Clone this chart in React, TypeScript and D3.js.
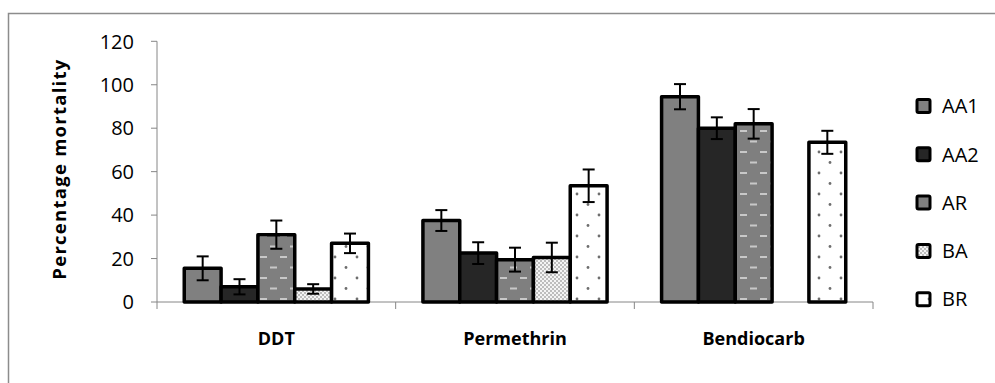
import * as d3 from "d3";

const categories = ["DDT", "Permethrin", "Bendiocarb"];
const seriesNames = ["AA1", "AA2", "AR", "BA", "BR"];

// mean percentage mortality per insecticide
const aa1 = [15.5, 37.5, 94.5];
const aa2 = [7, 22.5, 80];
const ar = [31, 19.5, 82];
const ba = [6, 20.5, 0];
const br = [27, 53.5, 73.5];

// error bar half-lengths
const aa1Err = [5.5, 4.8, 5.8];
const aa2Err = [3.5, 5, 5];
const arErr = [6.5, 5.5, 6.8];
const baErr = [2.2, 6.8, 0];
const brErr = [4.5, 7.5, 5.3];

const yTicks = [0, 20, 40, 60, 80, 100, 120];

const values = [aa1, aa2, ar, ba, br];
const errors = [aa1Err, aa2Err, arErr, baErr, brErr];
const fills = ["#808080", "#262626", "url(#patAR)", "url(#patBA)", "url(#patBR)"];

const FONT = "'Open Sans', 'DejaVu Sans', sans-serif";

export default function App() {
  const left = 157;
  const right = 873;
  const top = 41.3;
  const bottom = 302;

  const x = d3.scaleBand().domain(categories).range([left, right]).padding(0);
  const xs = d3
    .scaleBand()
    .domain(seriesNames)
    .range([0, x.bandwidth()])
    .paddingInner(0)
    .paddingOuter(0.74);
  const y = d3.scaleLinear().domain([0, 120]).range([bottom, top]);

  const boundaries = [...categories.map((c) => x(c) as number), right];

  return (
    <svg
      width={995}
      height={383}
      style={{ position: "absolute", left: 0, top: 0, background: "#fff" }}
    >
      <defs>
        <pattern id="patAR" width={20} height={21} patternUnits="userSpaceOnUse">
          <rect width={20} height={21} fill="#7f7f7f" />
          <rect x={0} y={4} width={7} height={2} fill="#c8c8c8" />
          <rect x={10} y={14.5} width={7} height={2} fill="#c8c8c8" />
        </pattern>
        <pattern id="patBA" width={4} height={4} patternUnits="userSpaceOnUse">
          <rect width={4} height={4} fill="#f4f4f4" />
          <circle cx={1} cy={1} r={0.75} fill="#6a6a6a" />
          <circle cx={3} cy={3} r={0.75} fill="#6a6a6a" />
        </pattern>
        <pattern id="patBR" width={22} height={21} patternUnits="userSpaceOnUse">
          <rect width={22} height={21} fill="#fff" />
          <circle cx={5} cy={5} r={1.4} fill="#6e6e6e" />
          <circle cx={16} cy={15.5} r={1.4} fill="#6e6e6e" />
        </pattern>
      </defs>

      {/* chart border */}
      <rect x={8.5} y={13.5} width={1000} height={400} fill="none" stroke="#8c8c8c" strokeWidth={1.5} />

      {/* y axis */}
      <line x1={left} x2={left} y1={top} y2={bottom} stroke="#868686" />
      {yTicks.map((t) => (
        <g key={t}>
          <line x1={left - 6} x2={left} y1={y(t)} y2={y(t)} stroke="#868686" />
          <text
            x={134}
            y={y(t)}
            dy="0.36em"
            textAnchor="end"
            fontFamily={FONT}
            fontSize={20}
            fill="#000"
          >
            {t}
          </text>
        </g>
      ))}
      <text
        transform={`translate(66,${(top + bottom) / 2 - 2}) rotate(-90)`}
        textAnchor="middle"
        fontFamily={FONT}
        fontWeight="bold"
        fontSize={18.5}
        textLength={220}
      >
        Percentage mortality
      </text>

      {/* x axis */}
      <line x1={left} x2={right} y1={bottom} y2={bottom} stroke="#868686" />
      {boundaries.map((b, i) => (
        <line key={i} x1={b} x2={b} y1={bottom} y2={bottom + 7} stroke="#868686" />
      ))}
      {categories.map((c) => (
        <text
          key={c}
          x={(x(c) as number) + x.bandwidth() / 2}
          y={345}
          textAnchor="middle"
          fontFamily={FONT}
          fontWeight="bold"
          fontSize={18}
        >
          {c}
        </text>
      ))}

      {/* bars */}
      {categories.map((c, ci) =>
        seriesNames.map((s, si) => {
          const v = values[si][ci];
          if (!v) return null;
          const bx = (x(c) as number) + (xs(s) as number);
          return (
            <rect
              key={c + s}
              x={bx}
              y={y(v)}
              width={xs.bandwidth()}
              height={y(0) - y(v)}
              fill={fills[si]}
              stroke="#000"
              strokeWidth={3.5}
              strokeLinejoin="round"
            />
          );
        })
      )}

      {/* error bars */}
      {categories.map((c, ci) =>
        seriesNames.map((s, si) => {
          const v = values[si][ci];
          const e = errors[si][ci];
          if (!v) return null;
          const cx = (x(c) as number) + (xs(s) as number) + xs.bandwidth() / 2;
          return (
            <g key={"e" + c + s} stroke="#000" strokeWidth={2}>
              <line x1={cx} x2={cx} y1={y(v + e)} y2={y(v - e)} />
              <line x1={cx - 6} x2={cx + 6} y1={y(v + e)} y2={y(v + e)} />
              <line x1={cx - 6} x2={cx + 6} y1={y(v - e)} y2={y(v - e)} />
            </g>
          );
        })
      )}

      {/* legend */}
      {seriesNames.map((s, i) => {
        const ly = 106 + i * 48.3;
        return (
          <g key={s}>
            <rect
              x={917}
              y={ly - 6.5}
              width={13}
              height={13}
              fill={fills[i]}
              stroke="#000"
              strokeWidth={3}
              rx={1.5}
            />
            <text x={942} y={ly} dy="0.36em" fontFamily={FONT} fontSize={20}>
              {s}
            </text>
          </g>
        );
      })}
    </svg>
  );
}
